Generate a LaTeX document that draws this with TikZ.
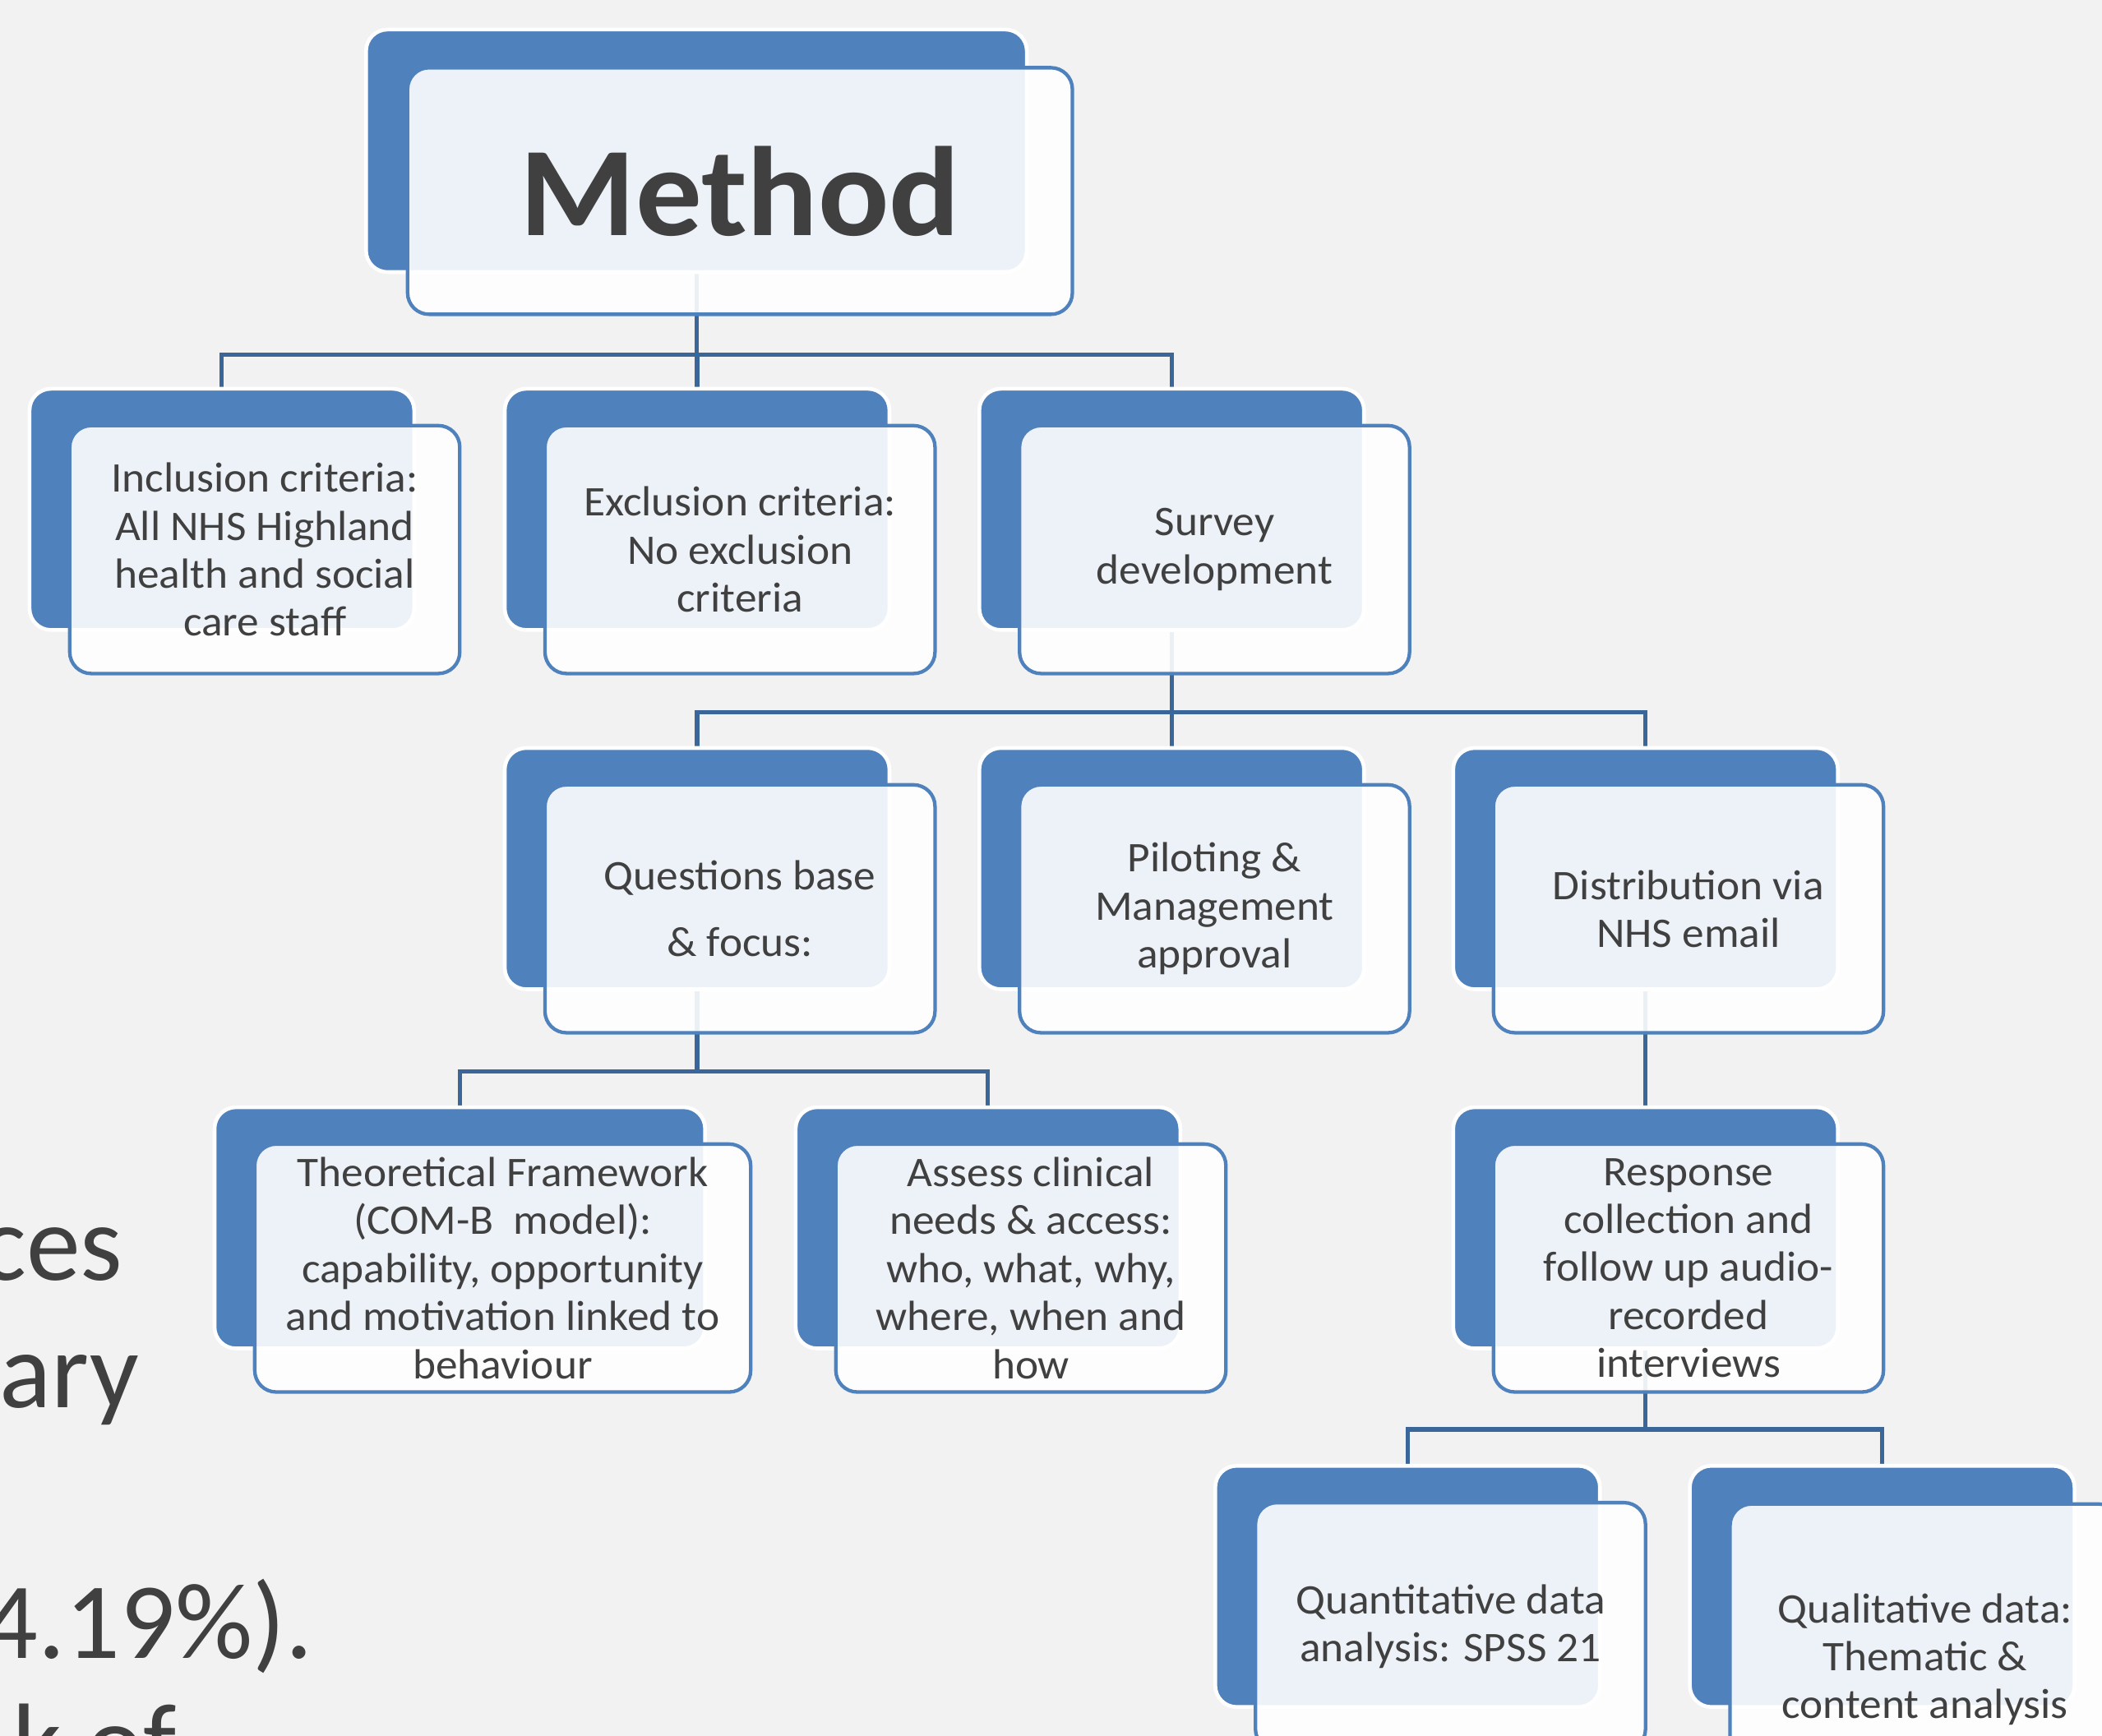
\documentclass[tikz,border=0pt]{standalone}
\usepackage{fontspec}
\setmainfont{Carlito}[FakeStretch=1.04]
\newfontfamily\slidefont{Carlito}
\usetikzlibrary{positioning}

\definecolor{accentblue}{HTML}{4F81BD}
\definecolor{linkblue}{HTML}{3B6699}
\definecolor{textgray}{HTML}{404040}
\definecolor{slidebg}{HTML}{F2F2F2}

\pgfdeclarelayer{bglayer}
\pgfdeclarelayer{linklayer}
\pgfsetlayers{bglayer,linklayer,main}

\begin{document}
\begin{tikzpicture}[
  x=0.02cm, y=-0.02cm,
  backbox/.style={
    rectangle,
    rounded corners=0.32cm,
    fill=accentblue,
    draw=white,
    line width=1.6pt,
    inner sep=0pt,
    minimum width=5.74cm,
    minimum height=3.6cm
  },
  frontbox/.style={
    rectangle,
    rounded corners=0.32cm,
    fill=white,
    fill opacity=0.9,
    text opacity=1,
    draw=accentblue,
    line width=1.5pt,
    inner sep=0pt,
    minimum width=5.82cm,
    minimum height=3.7cm,
    xshift=0.64cm,
    yshift=-0.6cm,
    align=center,
    text=textgray,
    font=\fontsize{17.9pt}{20.4pt}\selectfont
  },
  sidetext/.style={anchor=base east, inner sep=0pt, text=textgray,
    font=\slidefont\fontsize{46pt}{54pt}\selectfont},
  link/.style={draw=linkblue, line width=1.8pt}]

  \useasboundingbox (0,0) rectangle (1568,1295);
  \begin{pgfonlayer}{bglayer}
    \fill[slidebg] (0,0) rectangle (1568,1295);
  \end{pgfonlayer}
  \clip (0,0) rectangle (1568,1295);

  % text of the slide behind
  \node[sidetext] (ces) at (92,955) {ces};
  \node[sidetext] (ary) at (104,1050) {ary};
  \node[sidetext] (pct) at (234,1237) {4.19\%).};
  \node[sidetext] (kof) at (132,1327) {k of};

  % top
  \node[backbox, minimum width=9.86cm, minimum height=3.62cm] (methodb) at (519.5,112.5) {};
  \node[frontbox, minimum width=9.92cm, minimum height=3.68cm, xshift=0.01cm,
    font=\fontsize{54pt}{60pt}\bfseries] (method) at (methodb) {Method};

  % first row
  \node[backbox] (inclb) at (165.5,380) {};
  \node[frontbox] (incl) at (inclb) {Inclusion criteria:\\All NHS Highland\\health and social\\care staff};
  \node[backbox] (exclb) at (520,380) {};
  \node[frontbox] (excl) at (exclb) {Exclusion criteria:\\No exclusion\\criteria};
  \node[backbox] (surveyb) at (874,380) {};
  \node[frontbox] (survey) at (surveyb) {Survey\\development};

  % second row
  \node[backbox] (questb) at (520,648) {};
  \node[frontbox] (quest) at (questb) {Questions base\\[0.28cm]\& focus:};
  \node[backbox] (pilotb) at (874,648) {};
  \node[frontbox] (pilot) at (pilotb) {Piloting \&\\Management\\approval};
  \node[backbox] (distb) at (1227.5,648) {};
  \node[frontbox] (dist) at (distb) {Distribution via\\NHS email};

  % third row
  \node[backbox, minimum width=7.32cm] (theoryb) at (343,916) {};
  \node[frontbox, minimum width=7.4cm] (theory) at (theoryb) {Theoretical Framework\\(COM-B~ model):\\capability, opportunity\\and motivation linked to\\behaviour};
  \node[backbox] (assessb) at (737,916) {};
  \node[frontbox] (assess) at (assessb) {Assess clinical\\needs \& access:\\who, what, why,\\where, when and\\how};
  \node[backbox] (respb) at (1227.5,916) {};
  \node[frontbox] (resp) at (respb) {Response\\collection and\\follow up audio-\\recorded\\interviews};

  % fourth row
  \node[backbox] (quantb) at (1050,1183.5) {};
  \node[frontbox] (quant) at (quantb) {Quantitative data\\analysis: SPSS 21};
  \node[backbox] (qualb) at (1404,1183.5) {};
  \node[frontbox, minimum height=4.64cm, yshift=-0.49cm] (qual) at (qualb) {Qualitative data:\\Thematic \&\\content analysis};

  % connectors
  \begin{pgfonlayer}{linklayer}
    \foreach \kid in {inclb,exclb,surveyb}
      \draw[link] (methodb.south) -- ++(0,60) -| (\kid.north);
    \foreach \kid in {questb,pilotb,distb}
      \draw[link] (surveyb.south) -- ++(0,60) -| (\kid.north);
    \foreach \kid in {theoryb,assessb}
      \draw[link] (questb.south) -- ++(0,60) -| (\kid.north);
    \draw[link] (distb.south) -- (respb.north);
    \foreach \kid in {quantb,qualb}
      \draw[link] (respb.south) -- ++(0,59) -| (\kid.north);
  \end{pgfonlayer}
\end{tikzpicture}
\end{document}
